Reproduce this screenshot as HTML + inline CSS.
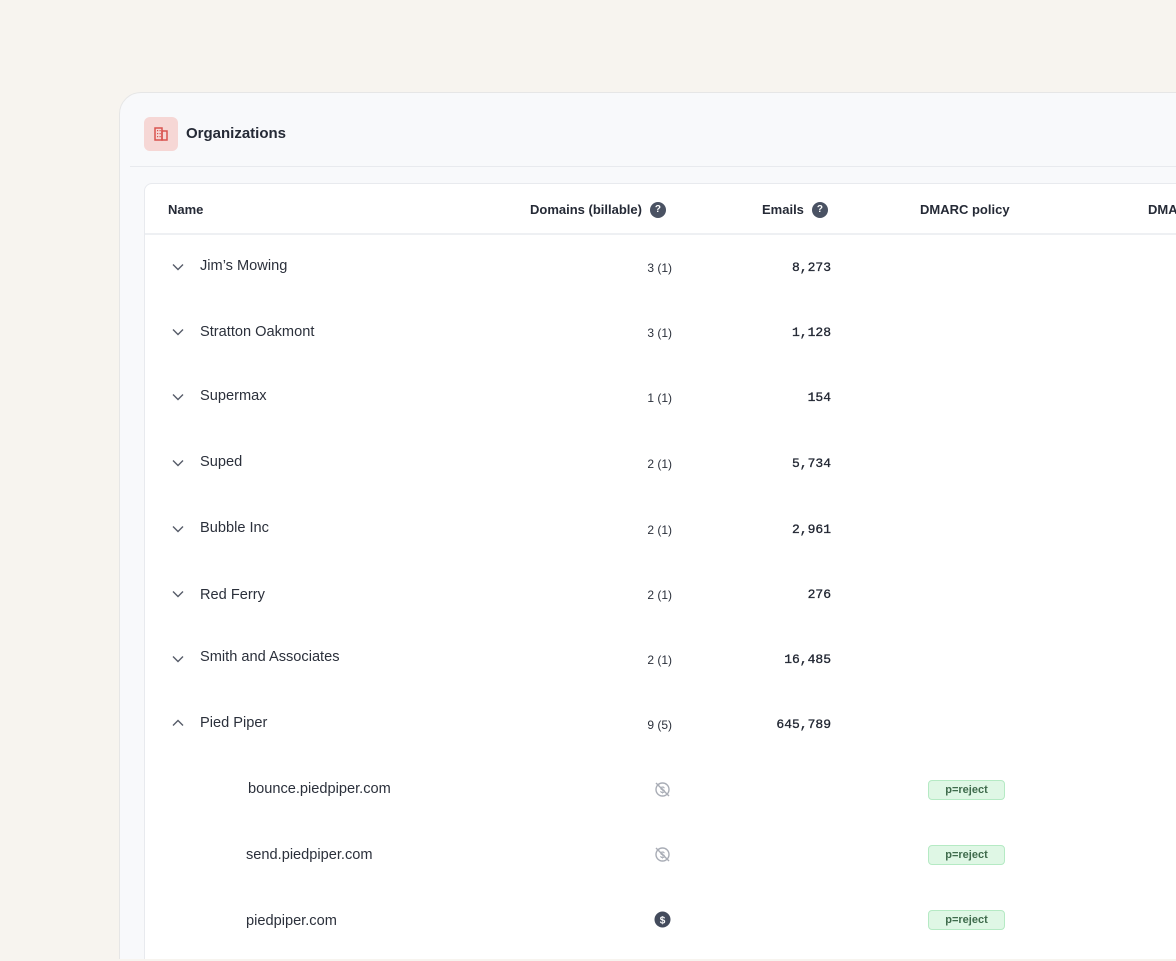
<!DOCTYPE html>
<html><head><style>
html,body{margin:0;width:1176px;height:961px;overflow:hidden}
body{background:#f7f4ef;font-family:"Liberation Sans",sans-serif;position:relative;color:#1f2430}
.wrap{position:absolute;left:0;top:0;width:1176px;height:959px;overflow:hidden}
.outer{position:absolute;left:119px;top:92px;width:1100px;height:900px;background:#f8f9fb;border:1px solid #e6e6e6;border-radius:22px}
.hline{position:absolute;left:130px;top:166px;width:1046px;height:1px;background:#e8eaee}
.ico{position:absolute;left:144px;top:117px;width:34px;height:34px;background:#f6d7d5;border-radius:6px}
.title{position:absolute;left:186px;top:125px;font-size:15px;font-weight:bold;color:#252a36}
.inner{position:absolute;left:144px;top:183px;width:1060px;height:820px;background:#fff;border:1px solid #e8eaee;border-radius:8px}
.thl{position:absolute;left:145px;top:233px;width:1031px;height:2px;background:#eef0f3}
.th{position:absolute;top:202px;font-size:13px;font-weight:bold;color:#252a36;line-height:16px}
.q{display:inline-block;width:16px;height:16px;border-radius:50%;background:#4a5263;color:#fff;font-size:10px;text-align:center;line-height:16px;vertical-align:top;margin-left:8px}
.r{position:absolute;font-size:14.6px;color:#2b303b}
.chev{position:absolute;left:172px;width:12px;height:8px}
.n{position:absolute;font-size:12px;color:#2b303b;text-align:right;width:80px}
.m{position:absolute;font-family:"Liberation Mono",monospace;font-size:13px;text-align:right;width:100px;color:#1f2430;-webkit-text-stroke:0.3px #1f2430}
.b{position:absolute;left:928px;width:75px;height:18px;background:#dff7e5;border:1px solid #b5eac4;border-radius:4px;font-size:11px;font-weight:bold;color:#3f6b4c;text-align:center;line-height:18px}
</style></head><body><div class="wrap">
<div class="outer"></div>
<div class="hline"></div>
<div class="ico"><svg width="34" height="34"><g fill="none" stroke="#d9534f" stroke-width="1.5"><rect x="11" y="11" width="7" height="12"/><rect x="18" y="14" width="5" height="9"/></g><g fill="#d9534f"><rect x="13" y="13" width="1.2" height="1.2"/><rect x="15.5" y="13" width="1.2" height="1.2"/><rect x="13" y="16" width="1.2" height="1.2"/><rect x="15.5" y="16" width="1.2" height="1.2"/><rect x="13" y="19" width="1.2" height="1.2"/><rect x="15.5" y="19" width="1.2" height="1.2"/></g></svg></div>
<div class="title">Organizations</div>
<div class="inner"></div>
<div class="thl"></div>
<div class="th" style="left:168px">Name</div>
<div class="th" style="left:530px">Domains (billable)<span class="q">?</span></div>
<div class="th" style="left:762px">Emails<span class="q">?</span></div>
<div class="th" style="left:920px">DMARC policy</div>
<div class="th" style="left:1148px">DMARC</div>

<div class="r" style="left:200px;top:258px">Jim’s Mowing</div>
<div class="r" style="left:200px;top:324px">Stratton Oakmont</div>
<div class="r" style="left:200px;top:388px">Supermax</div>
<div class="r" style="left:200px;top:454px">Suped</div>
<div class="r" style="left:200px;top:520px">Bubble Inc</div>
<div class="r" style="left:200px;top:587px">Red Ferry</div>
<div class="r" style="left:200px;top:649px">Smith and Associates</div>
<div class="r" style="left:200px;top:715px">Pied Piper</div>
<div class="r" style="left:248px;top:781px">bounce.piedpiper.com</div>
<div class="r" style="left:246px;top:847px">send.piedpiper.com</div>
<div class="r" style="left:246px;top:913px">piedpiper.com</div>

<svg class="chev" style="top:263px" viewBox="0 0 12 8"><path d="M1 1.5L6 6.5L11 1.5" fill="none" stroke="#555b68" stroke-width="1.4"/></svg>
<svg class="chev" style="top:328px" viewBox="0 0 12 8"><path d="M1 1.5L6 6.5L11 1.5" fill="none" stroke="#555b68" stroke-width="1.4"/></svg>
<svg class="chev" style="top:393px" viewBox="0 0 12 8"><path d="M1 1.5L6 6.5L11 1.5" fill="none" stroke="#555b68" stroke-width="1.4"/></svg>
<svg class="chev" style="top:459px" viewBox="0 0 12 8"><path d="M1 1.5L6 6.5L11 1.5" fill="none" stroke="#555b68" stroke-width="1.4"/></svg>
<svg class="chev" style="top:525px" viewBox="0 0 12 8"><path d="M1 1.5L6 6.5L11 1.5" fill="none" stroke="#555b68" stroke-width="1.4"/></svg>
<svg class="chev" style="top:590px" viewBox="0 0 12 8"><path d="M1 1.5L6 6.5L11 1.5" fill="none" stroke="#555b68" stroke-width="1.4"/></svg>
<svg class="chev" style="top:655px" viewBox="0 0 12 8"><path d="M1 1.5L6 6.5L11 1.5" fill="none" stroke="#555b68" stroke-width="1.4"/></svg>
<svg class="chev" style="top:719px" viewBox="0 0 12 8"><path d="M1 6.5L6 1.5L11 6.5" fill="none" stroke="#555b68" stroke-width="1.4"/></svg>

<div class="n" style="left:592px;top:261px">3 (1)</div>
<div class="n" style="left:592px;top:326px">3 (1)</div>
<div class="n" style="left:592px;top:391px">1 (1)</div>
<div class="n" style="left:592px;top:457px">2 (1)</div>
<div class="n" style="left:592px;top:523px">2 (1)</div>
<div class="n" style="left:592px;top:588px">2 (1)</div>
<div class="n" style="left:592px;top:653px">2 (1)</div>
<div class="n" style="left:592px;top:718px">9 (5)</div>

<div class="m" style="left:731px;top:260px">8,273</div>
<div class="m" style="left:731px;top:325px">1,128</div>
<div class="m" style="left:731px;top:390px">154</div>
<div class="m" style="left:731px;top:456px">5,734</div>
<div class="m" style="left:731px;top:522px">2,961</div>
<div class="m" style="left:731px;top:587px">276</div>
<div class="m" style="left:731px;top:652px">16,485</div>
<div class="m" style="left:731px;top:717px">645,789</div>

<svg style="position:absolute;left:654px;top:781px" width="17" height="17"><circle cx="8.5" cy="8.5" r="6.5" fill="none" stroke="#a9adb6" stroke-width="1.4"/><text x="8.5" y="12" font-size="9" font-family="Liberation Sans" fill="#a9adb6" text-anchor="middle" font-weight="bold">$</text><path d="M2 2L15 15" stroke="#a9adb6" stroke-width="1.4"/></svg>
<svg style="position:absolute;left:654px;top:846px" width="17" height="17"><circle cx="8.5" cy="8.5" r="6.5" fill="none" stroke="#a9adb6" stroke-width="1.4"/><text x="8.5" y="12" font-size="9" font-family="Liberation Sans" fill="#a9adb6" text-anchor="middle" font-weight="bold">$</text><path d="M2 2L15 15" stroke="#a9adb6" stroke-width="1.4"/></svg>
<svg style="position:absolute;left:654px;top:911px" width="17" height="17"><circle cx="8.5" cy="8.5" r="8" fill="#434b5c"/><text x="8.5" y="12.5" font-size="10" font-family="Liberation Sans" fill="#fff" text-anchor="middle" font-weight="bold">$</text></svg>

<div class="b" style="top:780px">p=reject</div>
<div class="b" style="top:845px">p=reject</div>
<div class="b" style="top:910px">p=reject</div>
</div></body></html>
